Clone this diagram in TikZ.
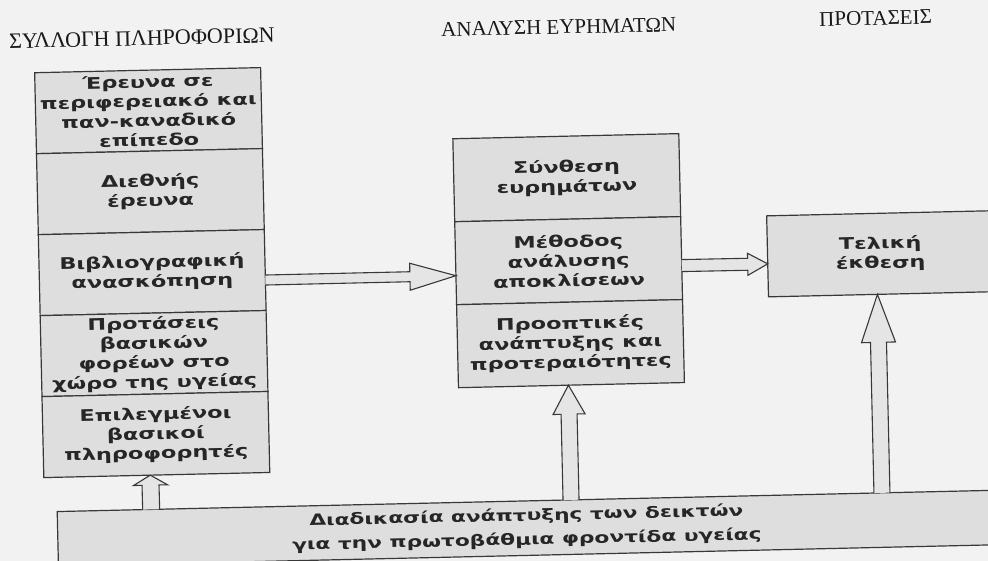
\documentclass[tikz,border=0pt]{standalone}
\usepackage{fontspec}
\setmainfont{Liberation Serif}
\newfontfamily\boxfont[FakeStretch=1.4]{DejaVu Sans}
\usetikzlibrary{positioning,calc}

% hollow block arrows: tail, tip, half shaft, half head, head length
\newcommand\rightblock[5]{%
  \draw[blockarrow] ($(#1)+(0,-#3)$) -- ($(#2)+(-#5,-#3)$) -- ($(#2)+(-#5,-#4)$)
    -- (#2) -- ($(#2)+(-#5,#4)$) -- ($(#2)+(-#5,#3)$) -- ($(#1)+(0,#3)$);}
\newcommand\upblock[5]{%
  \draw[blockarrow] ($(#1)+(-#3,0)$) -- ($(#2)+(-#3,#5)$) -- ($(#2)+(-#4,#5)$)
    -- (#2) -- ($(#2)+(#4,#5)$) -- ($(#2)+(#3,#5)$) -- ($(#1)+(#3,0)$);}

\begin{document}
\begin{tikzpicture}[x=1pt,y=-1pt,
    cell/.style={draw=ink, fill=cellgray, line width=1.2pt,
      minimum width=226pt, minimum height=81pt, inner sep=0pt, outer sep=0pt,
      align=center, text=black!85,
      font=\boxfont\bfseries\fontsize{16}{19.5}\selectfont},
    title/.style={font=\fontsize{21}{24}\selectfont, text=black!90},
    blockarrow/.style={draw=ink, fill=arrowgray, line width=1.1pt, line join=miter}]
    \colorlet{paper}{white!95!black}
    \colorlet{cellgray}{white!87!black}
    \colorlet{arrowgray}{white!90!black}
    \colorlet{ink}{black!78}

    \useasboundingbox (0,0) rectangle (988,561);
    \fill[paper] (0,0) rectangle (988,561);

    % the page sits a little askew
    \begin{scope}[rotate=1.3, transform shape]

    % column headings
    \node[title, font=\fontsize{22}{24}\selectfont] (tcollect) at (141,41.5) {ΣΥΛΛΟΓΗ ΠΛΗΡΟΦΟΡΙΩΝ};
    \node[title] (tanalysis) at (558,39.7) {ΑΝΑΛΥΣΗ ΕΥΡΗΜΑΤΩΝ};
    \node[title] (tproposal) at (875,38) {ΠΡΟΤΑΣΕΙΣ};

    % information gathering
    \node[cell] (survey) at (146,114) {Έρευνα σε\\περιφερειακό και\\παν-καναδικό\\επίπεδο};
    \node[cell, below=0pt of survey] (intl) {Διεθνής\\έρευνα};
    \node[cell, below=0pt of intl] (review) {Βιβλιογραφική\\ανασκόπηση};
    \node[cell, below=0pt of review] (proposals) {Προτάσεις\\βασικών\\φορέων στο\\χώρο της υγείας};
    \node[cell, below=0pt of proposals] (informants) {Επιλεγμένοι\\βασικοί\\πληροφορητές};

    % analysis of findings
    \node[cell, minimum height=83pt] (synthesis) at (562.6,190.5) {Σύνθεση\\ευρημάτων};
    \node[cell, minimum height=83pt, below=0pt of synthesis] (method) {Μέθοδος\\ανάλυσης\\αποκλίσεων};
    \node[cell, minimum height=83pt, below=0pt of method] (prospects) {Προοπτικές\\ανάπτυξης και\\προτεραιότητες};

    % proposals
    \node[cell] (report) at (874.6,273.7) {Τελική\\έκθεση};

    % the underlying process
    \node[cell, minimum width=938pt, minimum height=54.5pt,
          font=\boxfont\bfseries\fontsize{15.5}{24}\selectfont] (process) at (514.6,540)
         {Διαδικασία ανάπτυξης των δεικτών\\για την πρωτοβάθμια φροντίδα υγείας};

    % flow arrows
    \coordinate (a1) at ($(review.east)+(0,10)$);
    \coordinate (a1tip) at ($(method.west)+(0,12.5)$);
    \rightblock{a1}{a1tip}{5}{13.5}{46}
    \coordinate (a2) at ($(method.east)+(0,7.5)$);
    \coordinate (a2tip) at ($(report.west)+(0,7.5)$);
    \rightblock{a2}{a2tip}{6}{11}{20}

    % arrows out of the process
    \coordinate (a3) at ($(process.north)+(356,0)$);
    \coordinate (a3tip) at ($(report.south)+(-4,0)$);
    \upblock{a3}{a3tip}{8}{17}{48}
    \coordinate (a4) at ($(process.north)+(45,0)$);
    \coordinate (a4tip) at ($(prospects.south)+(-3,0)$);
    \upblock{a4}{a4tip}{8}{16}{29}
    \coordinate (a5) at ($(process.north)+(-375,0)$);
    \coordinate (a5tip) at ($(informants.south)+(-6.5,0)$);
    \upblock{a5}{a5tip}{8.5}{17}{10}
    \end{scope}
\end{tikzpicture}
\end{document}
